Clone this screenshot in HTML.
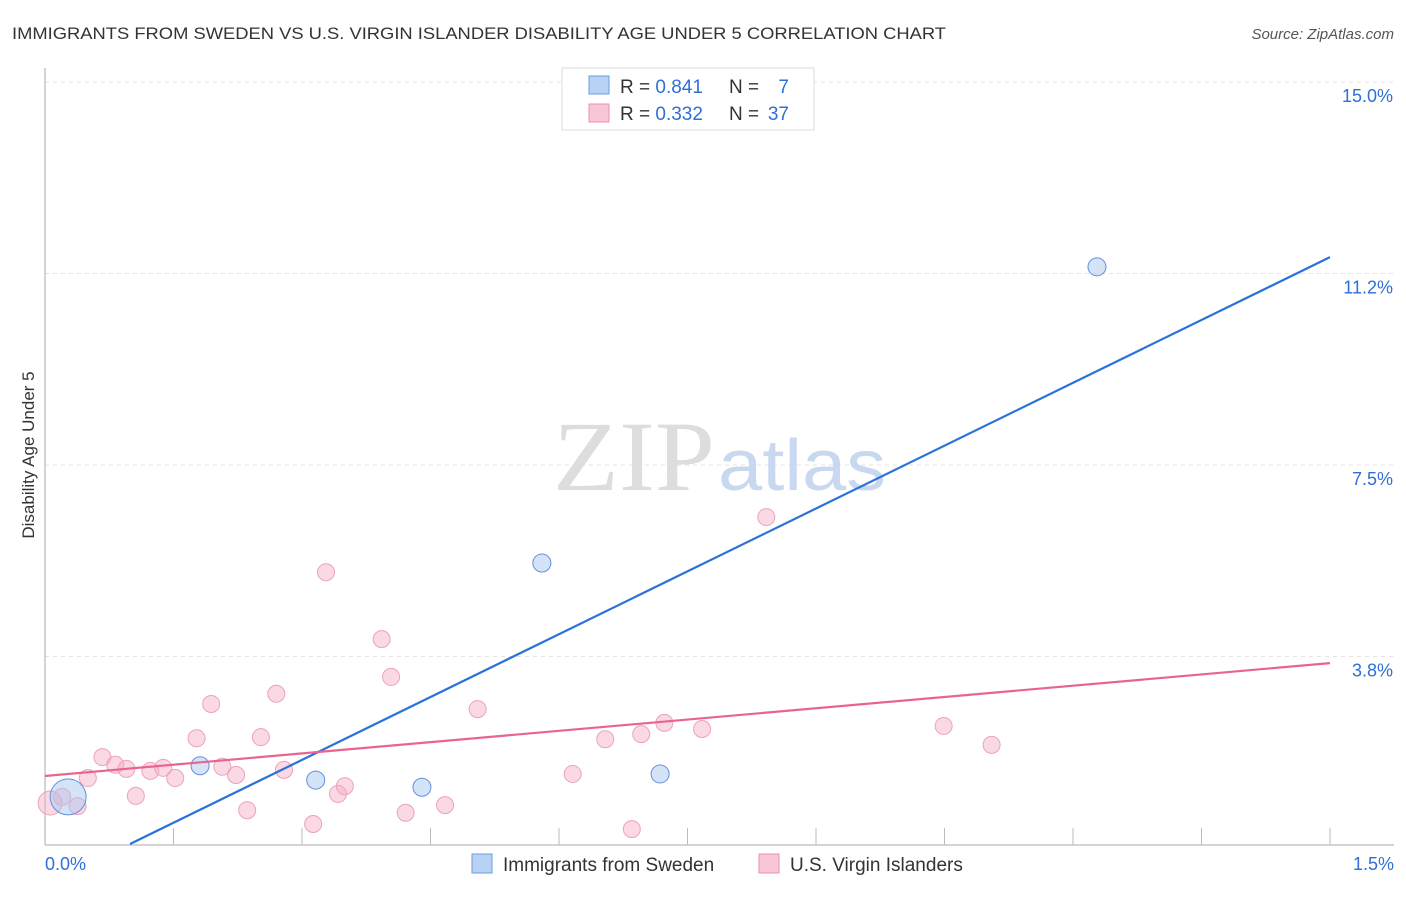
<!DOCTYPE html>
<html><head><meta charset="utf-8"><style>
body{margin:0;background:#fff;font-family:"Liberation Sans",sans-serif}
svg text{font-family:"Liberation Sans",sans-serif}
</style></head><body>
<svg id="chart" width="1406" height="892" xmlns="http://www.w3.org/2000/svg">
<text x="12" y="39" font-size="17" fill="#333" textLength="934" lengthAdjust="spacingAndGlyphs">IMMIGRANTS FROM SWEDEN VS U.S. VIRGIN ISLANDER DISABILITY AGE UNDER 5 CORRELATION CHART</text>
<text x="1394" y="39" font-size="15" fill="#555" text-anchor="end" font-style="italic">Source: ZipAtlas.com</text>
<text x="34" y="455" font-size="17" fill="#333" text-anchor="middle" transform="rotate(-90 34 455)">Disability Age Under 5</text>
<g id="grid"></g>
<text x="553" y="490" font-size="100" fill="#ddd" style="font-family:'Liberation Serif',serif" textLength="162" lengthAdjust="spacingAndGlyphs">ZIP</text>
<text x="718" y="490" font-size="72" fill="#c8d8f0" textLength="168" lengthAdjust="spacingAndGlyphs">atlas</text>
<g id="marks"></g>
<g>
<rect x="562" y="68" width="252" height="62" fill="#fff" stroke="#ddd"/>
<rect x="589" y="76" width="20" height="18" fill="#b8d2f5" stroke="#6a9ee0"/>
<text x="620" y="93" font-size="19" fill="#333">R = <tspan fill="#2f6fd6">0.841</tspan></text>
<text x="729" y="93" font-size="19" fill="#333">N =</text>
<text x="789" y="93" font-size="19" fill="#2f6fd6" text-anchor="end">7</text>
<rect x="589" y="104" width="20" height="18" fill="#f8c6d5" stroke="#ea92ad"/>
<text x="620" y="120" font-size="19" fill="#333">R = <tspan fill="#2f6fd6">0.332</tspan></text>
<text x="729" y="120" font-size="19" fill="#333">N =</text>
<text x="789" y="120" font-size="19" fill="#2f6fd6" text-anchor="end">37</text>
</g>
<g>
<rect x="472" y="854" width="20" height="19" fill="#b8d2f5" stroke="#6a9ee0"/>
<text x="503" y="871" font-size="19" fill="#333">Immigrants from Sweden</text>
<rect x="759" y="854" width="20" height="19" fill="#f8c6d5" stroke="#ea92ad"/>
<text x="790" y="871" font-size="19" fill="#333">U.S. Virgin Islanders</text>
</g>
</svg>
<script>
const yTicks=[3.75,7.5,11.25,15];
const yTickLabels=["3.8%","7.5%","11.2%","15.0%"];
const xTickLabels=["0.0%","1.5%"];
const swedenX=[0.027,0.181,0.316,0.440,0.580,0.718,1.228];
const swedenY=[1.0,1.61,1.33,1.19,5.58,1.45,11.38];
const swedenR=[18,9,9,9,9,9,9];
const viX=[0.006,0.020,0.038,0.050,0.067,0.082,0.095,0.106,0.123,0.138,0.152,0.177,0.194,0.207,0.223,0.236,0.252,0.270,0.279,0.313,0.328,0.342,0.350,0.393,0.404,0.421,0.467,0.505,0.616,0.654,0.685,0.696,0.723,0.767,0.842,1.049,1.105];
const viY=[0.88,1.00,0.82,1.37,1.78,1.63,1.55,1.02,1.51,1.57,1.37,2.15,2.82,1.59,1.43,0.74,2.17,3.02,1.53,0.47,5.40,1.06,1.21,4.09,3.35,0.69,0.84,2.72,1.45,2.13,0.37,2.23,2.45,2.33,6.48,2.39,2.02];
const swedenLine=[-0.82,11.57];
const viLine=[1.41,3.62];
const NS="http://www.w3.org/2000/svg";
const X=v=>45+v/1.5*1285;
const Y=v=>848-v*51.07;
function mk(tag,attrs,parent){const e=document.createElementNS(NS,tag);for(const k in attrs)e.setAttribute(k,attrs[k]);parent.appendChild(e);return e;}
const grid=document.getElementById('grid'),marks=document.getElementById('marks');
yTicks.forEach((t,i)=>{
 const l=mk('line',{x1:45,x2:1394,y1:Y(t),y2:Y(t),stroke:'#e3e3e3','stroke-dasharray':'4,4'},grid);
 
 
 const tx=mk('text',{x:1393,y:Y(t)+20,'font-size':18,fill:'#2f6fd6','text-anchor':'end'},grid);
 tx.textContent=yTickLabels[i];
 
 
});
const ax=mk('line',{x1:45,x2:45,y1:68,y2:845,stroke:'#aaa'},grid);


const bx=mk('line',{x1:45,x2:1394,y1:845,y2:845,stroke:'#aaa'},grid);


for(let i=1;i<=10;i++){const v=i*0.15;
 const t=mk('line',{x1:X(v),x2:X(v),y1:828,y2:845,stroke:'#bbb'},grid);
 
 }
[[0,45,'start'],[1.5,1394,'end']].forEach((d,i)=>{
 const tx=mk('text',{x:d[1],y:870,'font-size':18,fill:'#2f6fd6','text-anchor':d[2]},grid);
 tx.textContent=xTickLabels[i];
 
 });
viX.forEach((x,i)=>{
 const c=mk('circle',{cx:X(x),cy:Y(viY[i]),r:i==0?12:8.5,fill:'rgba(245,170,195,0.45)',stroke:'#eba3ba','stroke-width':1},marks);
 
 });
swedenX.forEach((x,i)=>{
 const c=mk('circle',{cx:X(x),cy:Y(swedenY[i]),r:swedenR[i],fill:'rgba(170,200,240,0.5)',stroke:'#5f93dc','stroke-width':1},marks);
 
 });
const x0=swedenLine[0]<0?(0-swedenLine[0])/(swedenLine[1]-swedenLine[0])*1.5:0;
const bl=mk('line',{x1:X(x0),y1:Y(0)-4,x2:X(1.5),y2:Y(swedenLine[1]),stroke:'#2a72d8','stroke-width':2.2},marks);


const pl=mk('line',{x1:X(0),y1:Y(viLine[0]),x2:X(1.5),y2:Y(viLine[1]),stroke:'#e8648f','stroke-width':2.2},marks);


</script>
</body></html>
